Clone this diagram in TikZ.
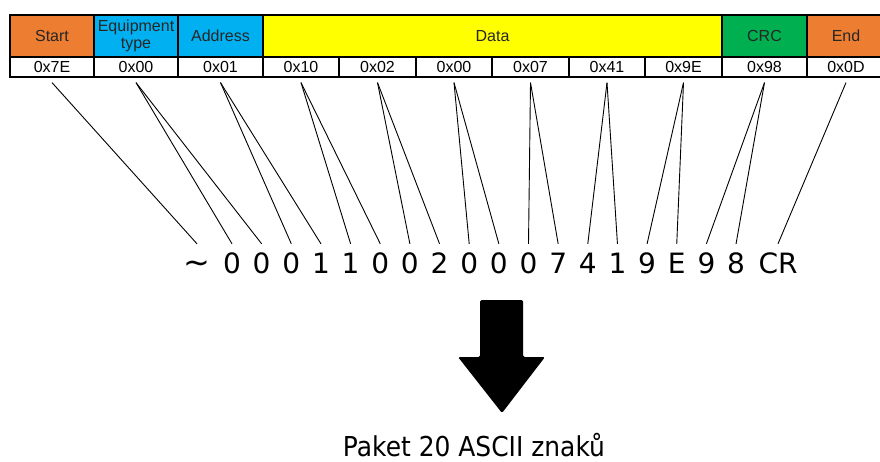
\documentclass[tikz,border=0pt]{standalone}
\usepackage{fontspec}
\setmainfont{Liberation Sans}
\newfontfamily\dv{DejaVu Sans}
\newfontfamily\dvc[FakeStretch=0.91]{DejaVu Sans}
\definecolor{corange}{RGB}{237,125,49}
\definecolor{cblue}{RGB}{0,176,240}
\definecolor{cyellow}{RGB}{255,255,0}
\definecolor{cgreen}{RGB}{0,176,80}
\begin{document}
\begin{tikzpicture}[x=1pt,y=-1pt,
  hdr/.style={draw=black,line width=1.2pt,minimum height=42pt,inner sep=0pt,
    font=\fontsize{16}{17}\selectfont,align=center,text=black!85},
  val/.style={draw=black,line width=1.2pt,minimum height=20pt,inner sep=0pt,
    font=\fontsize{16}{17}\selectfont,fill=white},
  chr/.style={inner sep=0pt,anchor=base,text height=20pt,text depth=0pt,
    font=\dv\fontsize{28}{30}\selectfont},
  link/.style={draw=black,line width=0.9pt}]
\clip (0,0) rectangle (880,461);
\fill[white] (0,0) rectangle (880,461);
% header row
\node[hdr,fill=corange,minimum width=84pt] (hstart) at (52,36) {Start};
\node[hdr,fill=cblue,minimum width=84pt] (hequip) at (136,36) {Equipment\\type};
\node[hdr,fill=cblue,minimum width=85pt] (haddr) at (220.5,36) {Address};
\node[hdr,fill=cyellow,minimum width=459pt] (hdata) at (492.5,36) {Data};
\node[hdr,fill=cgreen,minimum width=85pt] (hcrc) at (764.5,36) {CRC};
\node[hdr,fill=corange,minimum width=78pt] (hend) at (846,36) {End};
% value row
\foreach \n/\c/\w/\t in {1/52/84/0x7E,2/136/84/0x00,3/220.5/85/0x01,4/301/76/0x10,
  5/377.5/77/0x02,6/454/76/0x00,7/530.5/77/0x07,8/607/76/0x41,9/683.5/77/0x9E,
  10/764.5/85/0x98,11/846/78/0x0D}
  \node[val,minimum width=\w pt] (v\n) at (\c,67) {\t};
% characters
\node[chr,font=\dv\fontsize{32}{34}\selectfont] (c0) at (197,273) {\char"007E};
\foreach \k/\t in {1/0,2/0,3/0,4/1,5/1,6/0,7/0,8/2,9/0,10/0,11/0,12/7,13/4,14/1,15/9,16/E,17/9,18/8}
  \node[chr] (c\k) at ({232+29.65*(\k-1)},273) {\t};
\node[chr] (c19) at (778,273) {CR};
% connectors
\foreach \v/\k in {1/0,2/1,2/2,3/3,3/4,4/5,4/6,5/7,5/8,6/9,6/10,7/11,7/12,8/13,8/14,9/15,9/16,10/17,10/18,11/19}
  \draw[link] ([yshift=-5pt]v\v.south) -- ([yshift=9pt]c\k.north);
% big arrow
\fill[black,rounded corners=1.5pt] (480,300) -- (523,300) -- (523,357) -- (545,357)
  -- (502,413) -- (458,357) -- (480,357) -- cycle;
% caption
\node[inner sep=0pt,anchor=base,font=\dvc\fontsize{27.4}{30}\selectfont] (cap) at (474,456) {Paket 20 ASCII znaků};
\end{tikzpicture}
\end{document}
